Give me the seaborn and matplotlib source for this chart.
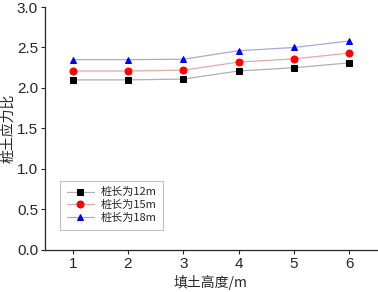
import pandas as pd
import seaborn as sns
import matplotlib.pyplot as plt

# 数据
heights = [1, 2, 3, 4, 5, 6]
pile_12 = [2.10, 2.10, 2.11, 2.21, 2.25, 2.31]
pile_15 = [2.21, 2.21, 2.22, 2.32, 2.36, 2.43]
pile_18 = [2.35, 2.35, 2.355, 2.46, 2.50, 2.58]
labels = ['桩长为12m', '桩长为15m', '桩长为18m']

sns.set_style('ticks')
plt.rcParams['font.family'] = ['Liberation Sans', 'Noto Sans CJK SC', 'DejaVu Sans']

fig = plt.figure(figsize=(3.78, 2.92), dpi=100)
ax = fig.add_axes([0.119, 0.144, 0.878, 0.832])

series = [
    (pile_12, labels[0], '#b0b0b0', 's', 'black'),
    (pile_15, labels[1], '#e8a8a8', 'o', 'red'),
    (pile_18, labels[2], '#a8a8dc', '^', 'blue'),
]
for vals, lab, lc, mk, mc in series:
    df = pd.DataFrame({'h': heights, 'v': vals})
    sns.lineplot(data=df, x='h', y='v', ax=ax, color=lc, linewidth=0.9,
                 marker=mk, markersize=5, markerfacecolor=mc,
                 markeredgecolor=mc, label=lab)

ax.set_xlim(0.5, 6.5)
ax.set_ylim(0, 3.0)
ax.set_xticks(heights)
ax.set_yticks([0.0, 0.5, 1.0, 1.5, 2.0, 2.5, 3.0])
ax.yaxis.set_major_formatter(plt.FormatStrFormatter('%.1f'))
ax.tick_params(labelsize=11, length=3, width=0.8, direction='out', pad=2)
for s in ['top', 'right']:
    ax.spines[s].set_visible(False)
for s in ['left', 'bottom']:
    ax.spines[s].set_linewidth(0.9)

ax.set_xlabel('填土高度/m', fontsize=10, family=['Noto Sans CJK SC'], labelpad=3)
ax.set_ylabel('桩土应力比', fontsize=10, family=['Noto Sans CJK SC'], labelpad=1)

leg = ax.legend(loc='lower left', bbox_to_anchor=(0.03, 0.06),
                frameon=True, fancybox=False, edgecolor='#b0b0b0',
                handlelength=2.4, handletextpad=0.6, borderpad=0.6,
                labelspacing=0.25,
                prop={'family': ['Noto Sans CJK SC'], 'size': 8})
leg.get_frame().set_linewidth(0.8)

fig.savefig('out.png', dpi=100)
